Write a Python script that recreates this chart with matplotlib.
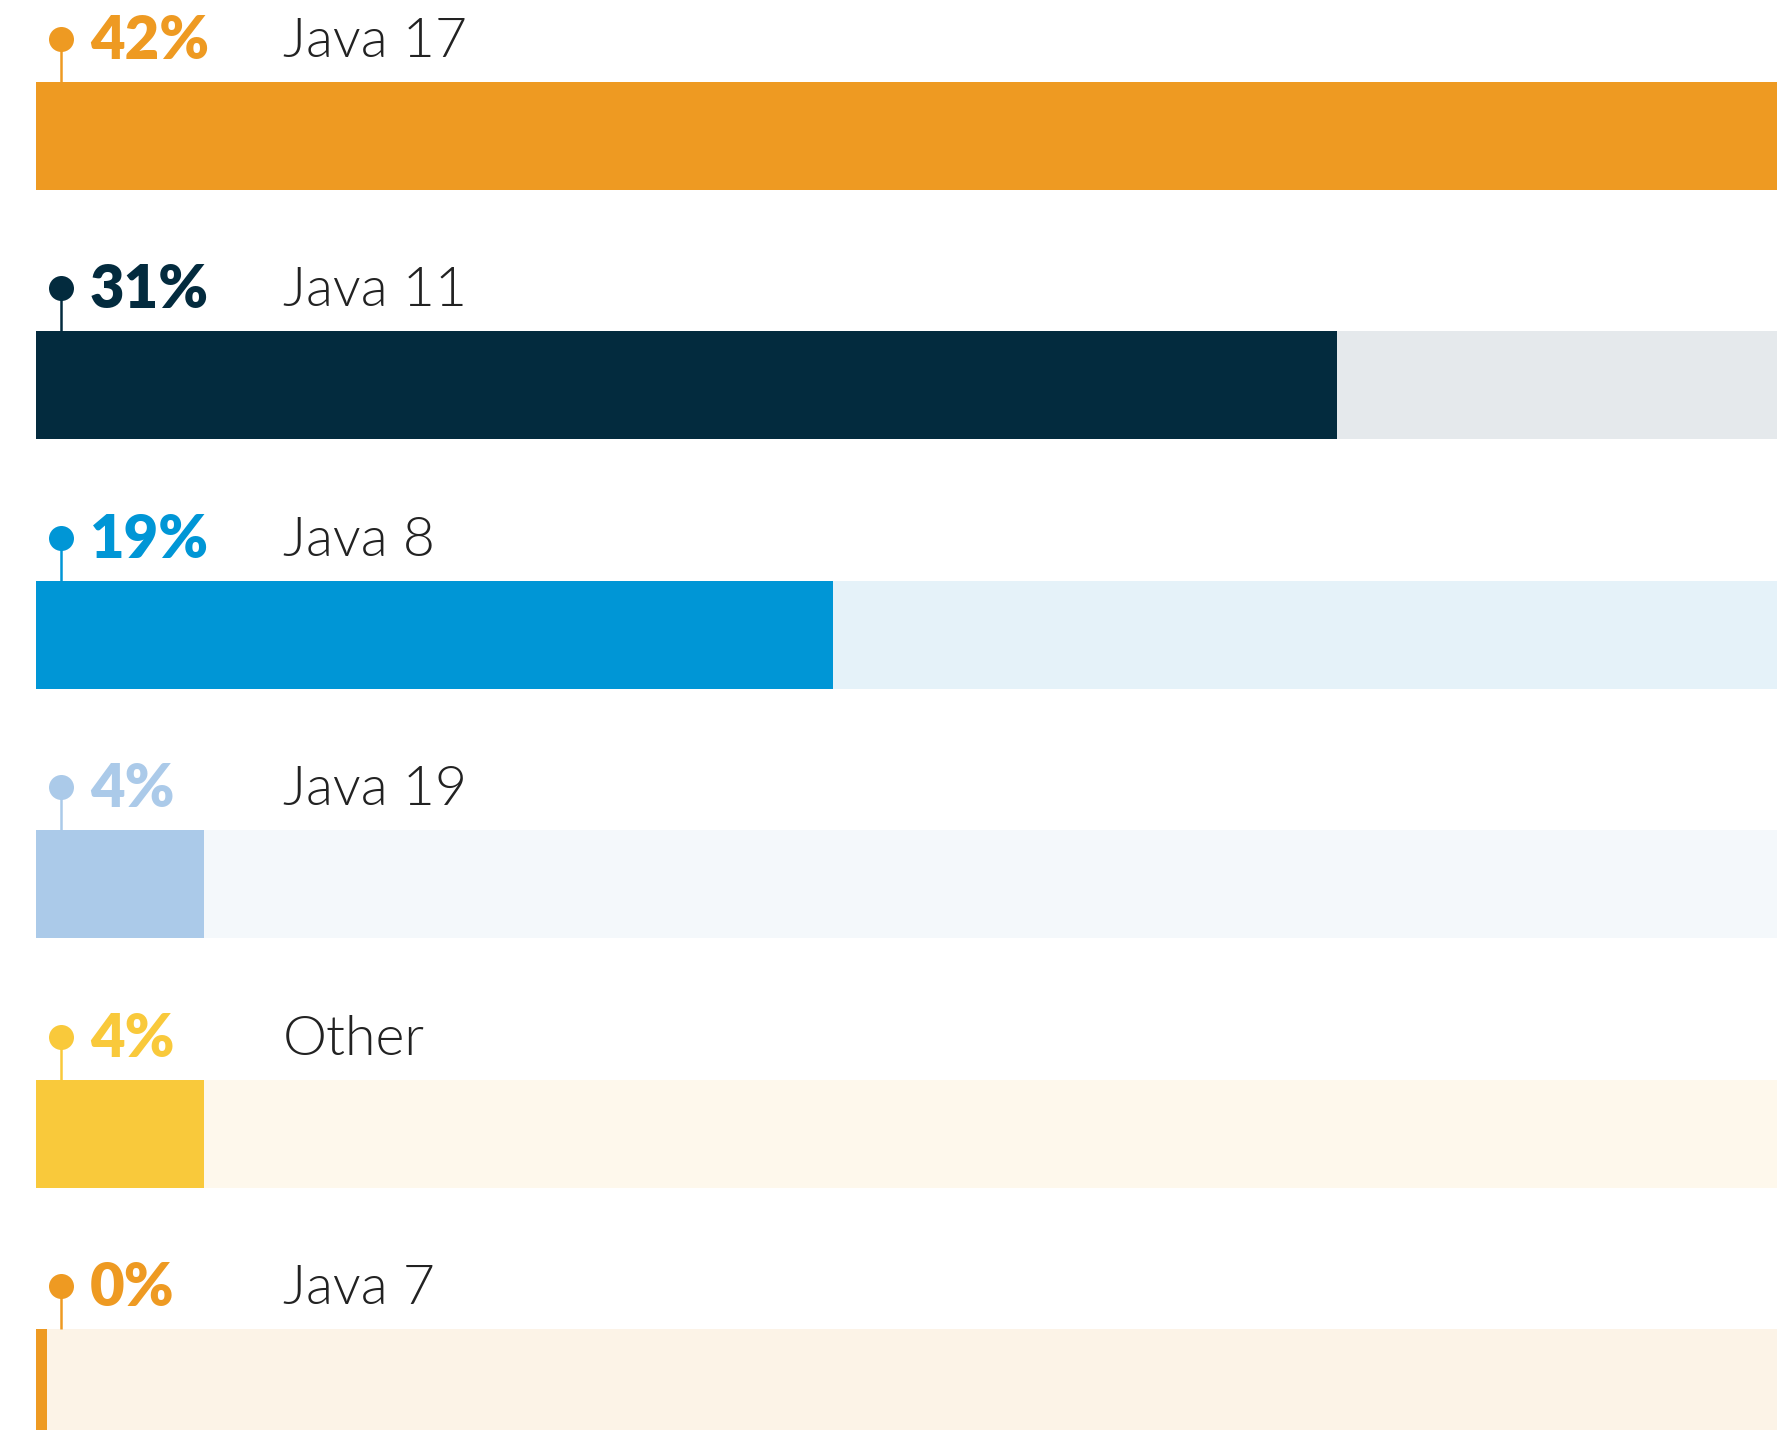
import matplotlib
matplotlib.use("Agg")
import matplotlib.pyplot as plt

# ---- data ----
categories = ["Java 17", "Java 11", "Java 8", "Java 19", "Other", "Java 7"]
values = [41.5, 31.0, 19.0, 4.0, 4.0, 0.26]
pct_labels = ["42%", "31%", "19%", "4%", "4%", "0%"]
bar_colors = ["#EE9A22", "#032B3E", "#0096D6", "#ABCAE9", "#F9C93B", "#EE9A22"]
track_colors = ["#FCF3E7", "#E5E9EC", "#E5F2F9", "#F4F8FB", "#FEF8EC", "#FCF3E7"]

W, H, DPI = 1777, 1430, 100
fig = plt.figure(figsize=(W / DPI, H / DPI), dpi=DPI)
left_px = 36
ax = fig.add_axes([left_px / W, 0, 1 - left_px / W, 1])
ax.set_axis_off()

xmax = 41.5
pitch_px = 249.4
ax.set_xlim(0, xmax)
span = H / pitch_px
top = -136 / pitch_px
ax.set_ylim(top + span, top)

px_x = xmax / (W - left_px)   # data units per pixel (x)
px_y = 1 / pitch_px           # data units per pixel (y)
bar_h = 108 * px_y

idx = list(range(len(categories)))
ax.barh(idx, [xmax] * len(idx), height=bar_h, color=track_colors, left=0, linewidth=0)
ax.barh(idx, values, height=bar_h, color=bar_colors, left=0, linewidth=0)

dot_x = 25 * px_x
for i, (cat, pl, c) in enumerate(zip(categories, pct_labels, bar_colors)):
    dot_y = i - 97 * px_y
    ax.plot([dot_x, dot_x], [dot_y, i - bar_h / 2], color=c, lw=1.8, solid_capstyle="butt", zorder=3)
    ax.plot([dot_x], [dot_y], "o", color=c, markersize=18, markeredgewidth=0, zorder=4)
    ax.text(54 * px_x, i - 77 * px_y, pl, color=c, fontsize=43, fontweight="heavy",
            family="Lato", va="baseline", ha="left")
    ax.text(247 * px_x, i - 79 * px_y, cat, color="#222222", fontsize=40, fontweight=300,
            family="Lato", va="baseline", ha="left")

fig.savefig("out.png", dpi=DPI)
